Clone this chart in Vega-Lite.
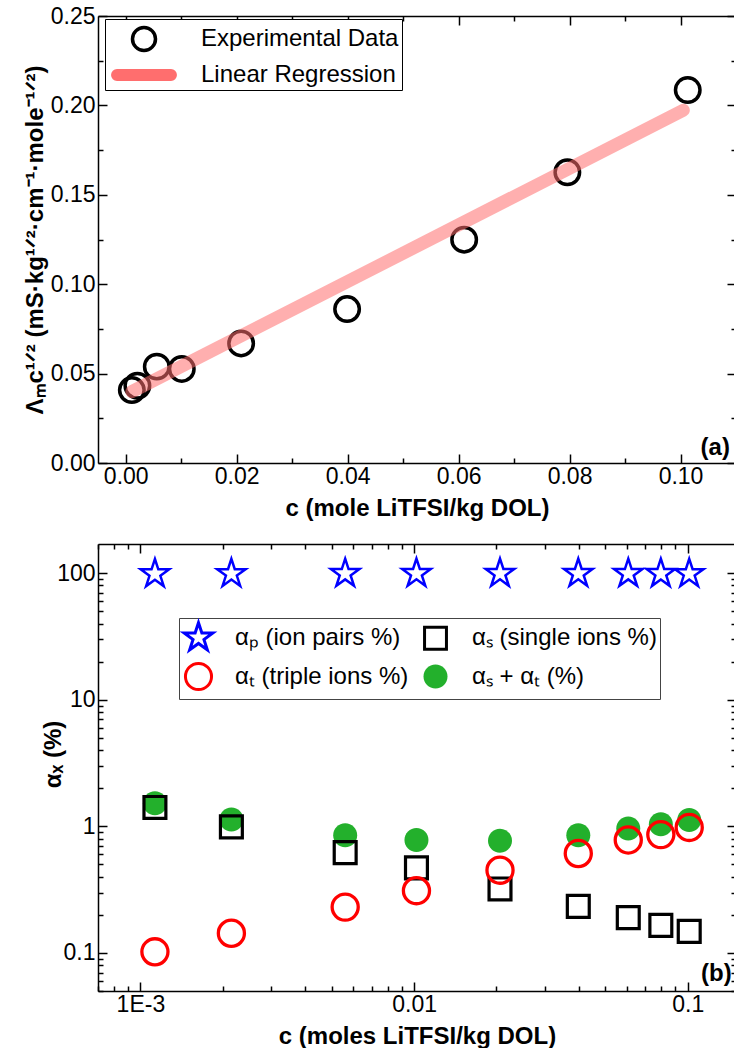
{
  "$schema": "https://vega.github.io/schema/vega-lite/v6.json",
  "padding": {"left": 23, "top": 5, "right": 0, "bottom": 0},
  "background": "white",
  "bounds": "flush",
  "spacing": 81,
  "resolve": {
    "scale": {"shape": "independent", "fill": "independent", "stroke": "independent"},
    "legend": {"shape": "independent", "fill": "independent", "stroke": "independent"}
  },
  "config": {
    "font": "Liberation Sans",
    "view": {"stroke": null},
    "axis": {
      "labelFont": "Liberation Sans", "labelFontSize": 23, "labelColor": "black",
      "titleFont": "Liberation Sans", "titleFontSize": 24, "titleFontWeight": "bold", "titleColor": "black",
      "domainColor": "black", "tickColor": "black", "domainWidth": 1.5, "tickWidth": 1.5,
      "grid": false, "labelFlush": false, "labelOverlap": false, "labelBound": false
    },
    "legend": {"labelFont": "Liberation Sans", "labelColor": "black", "labelLimit": 0, "titleLimit": 0}
  },
  "datasets": {
    "cond": [
      {"c": 0.0011, "v": 0.0408, "series": "Experimental Data"},
      {"c": 0.0021, "v": 0.0432, "series": "Experimental Data"},
      {"c": 0.0056, "v": 0.0539, "series": "Experimental Data"},
      {"c": 0.0101, "v": 0.0526, "series": "Experimental Data"},
      {"c": 0.0208, "v": 0.0669, "series": "Experimental Data"},
      {"c": 0.0399, "v": 0.0861, "series": "Experimental Data"},
      {"c": 0.061, "v": 0.1249, "series": "Experimental Data"},
      {"c": 0.0796, "v": 0.1626, "series": "Experimental Data"},
      {"c": 0.1013, "v": 0.2086, "series": "Experimental Data"}
    ],
    "fit": [
      {"c": 0.0011, "v": 0.0399, "series": "Linear Regression"},
      {"c": 0.1005, "v": 0.1973, "series": "Linear Regression"}
    ],
    "alpha": [
      {"c": 0.00113, "v": 98.5, "series": "αₚ (ion pairs %)"},
      {"c": 0.00215, "v": 98.9, "series": "αₚ (ion pairs %)"},
      {"c": 0.0056, "v": 99.1, "series": "αₚ (ion pairs %)"},
      {"c": 0.0102, "v": 99.2, "series": "αₚ (ion pairs %)"},
      {"c": 0.0206, "v": 99.2, "series": "αₚ (ion pairs %)"},
      {"c": 0.0398, "v": 99.2, "series": "αₚ (ion pairs %)"},
      {"c": 0.0606, "v": 99.1, "series": "αₚ (ion pairs %)"},
      {"c": 0.0797, "v": 99.0, "series": "αₚ (ion pairs %)"},
      {"c": 0.1012, "v": 98.9, "series": "αₚ (ion pairs %)"},
      {"c": 0.00113, "v": 1.41, "series": "αₛ (single ions %)"},
      {"c": 0.00215, "v": 0.99, "series": "αₛ (single ions %)"},
      {"c": 0.0056, "v": 0.62, "series": "αₛ (single ions %)"},
      {"c": 0.0102, "v": 0.47, "series": "αₛ (single ions %)"},
      {"c": 0.0206, "v": 0.32, "series": "αₛ (single ions %)"},
      {"c": 0.0398, "v": 0.233, "series": "αₛ (single ions %)"},
      {"c": 0.0606, "v": 0.19, "series": "αₛ (single ions %)"},
      {"c": 0.0797, "v": 0.165, "series": "αₛ (single ions %)"},
      {"c": 0.1012, "v": 0.148, "series": "αₛ (single ions %)"},
      {"c": 0.00113, "v": 0.102, "series": "αₜ (triple ions %)"},
      {"c": 0.00215, "v": 0.143, "series": "αₜ (triple ions %)"},
      {"c": 0.0056, "v": 0.23, "series": "αₜ (triple ions %)"},
      {"c": 0.0102, "v": 0.31, "series": "αₜ (triple ions %)"},
      {"c": 0.0206, "v": 0.45, "series": "αₜ (triple ions %)"},
      {"c": 0.0398, "v": 0.61, "series": "αₜ (triple ions %)"},
      {"c": 0.0606, "v": 0.78, "series": "αₜ (triple ions %)"},
      {"c": 0.0797, "v": 0.86, "series": "αₜ (triple ions %)"},
      {"c": 0.1012, "v": 0.98, "series": "αₜ (triple ions %)"},
      {"c": 0.00113, "v": 1.52, "series": "αₛ + αₜ (%)"},
      {"c": 0.00215, "v": 1.13, "series": "αₛ + αₜ (%)"},
      {"c": 0.0056, "v": 0.85, "series": "αₛ + αₜ (%)"},
      {"c": 0.0102, "v": 0.78, "series": "αₛ + αₜ (%)"},
      {"c": 0.0206, "v": 0.77, "series": "αₛ + αₜ (%)"},
      {"c": 0.0398, "v": 0.85, "series": "αₛ + αₜ (%)"},
      {"c": 0.0606, "v": 0.96, "series": "αₛ + αₜ (%)"},
      {"c": 0.0797, "v": 1.04, "series": "αₛ + αₜ (%)"},
      {"c": 0.1012, "v": 1.12, "series": "αₛ + αₜ (%)"}
    ],
    "labA": [{"label": "(a)"}]
  },
  "vconcat": [
    {
      "width": 638,
      "height": 447,
      "layer": [
        {
          "layer": [
            {
              "data": {"name": "cond"},
              "mark": {"type": "point", "filled": false, "strokeWidth": 3.5, "size": 1020, "opacity": 1},
              "encoding": {
                "x": {
                  "field": "c", "type": "quantitative",
                  "scale": {"domain": [-0.005, 0.11], "nice": false, "zero": false},
                  "axis": {
                    "values": [0, 0.01, 0.02, 0.03, 0.04, 0.05, 0.06, 0.07, 0.08, 0.09, 0.1],
                    "labelExpr": "round(datum.value*100) % 2 == 0 ? format(datum.value, '.2f') : ''",
                    "tickSize": {"condition": {"test": "round(datum.value*100) % 2 == 0", "value": -9}, "value": -5},
                    "labelPadding": 11,
                    "title": "c (mole LiTFSI/kg DOL)",
                    "titlePadding": 4
                  }
                },
                "y": {
                  "field": "v", "type": "quantitative",
                  "scale": {"domain": [0, 0.25], "nice": false, "zero": false},
                  "axis": {
                    "values": [0, 0.025, 0.05, 0.075, 0.1, 0.125, 0.15, 0.175, 0.2, 0.225, 0.25],
                    "labelExpr": "round(datum.value*1000) % 50 == 0 ? format(datum.value, '.2f') : ''",
                    "tickSize": {"condition": {"test": "round(datum.value*1000) % 50 == 0", "value": -9}, "value": -5},
                    "labelPadding": 12,
                    "title": "Λₘc¹ᐟ² (mS·kg¹ᐟ²·cm⁻¹·mole⁻¹ᐟ²)",
                    "titlePadding": 3
                  }
                },
                "shape": {
                  "field": "series", "type": "nominal",
                  "scale": {
                    "domain": ["Experimental Data", "Linear Regression"],
                    "range": ["M-0.767,0A0.767,0.767 0 1,0 0.767,0A0.767,0.767 0 1,0 -0.767,0Z", "M-1.8,-0.28L1.8,-0.28A0.28,0.28 0 0,1 1.8,0.28L-1.8,0.28A0.28,0.28 0 0,1 -1.8,-0.28Z"]
                  },
                  "legend": {
                    "title": null,
                    "orient": "none", "legendX": 7, "legendY": 3,
                    "strokeColor": "black", "fillColor": "white", "padding": 3,
                    "labelFontSize": 24, "labelOffset": 40, "rowPadding": 0,
                    "symbolOffset": 19, "symbolSize": 900, "symbolStrokeWidth": 3.5, "symbolOpacity": 1
                  }
                },
                "stroke": {
                  "field": "series", "type": "nominal",
                  "scale": {"domain": ["Experimental Data", "Linear Regression"], "range": ["black", "#ff6e6e"]},
                  "legend": {"title": null}
                },
                "fill": {
                  "field": "series", "type": "nominal",
                  "scale": {"domain": ["Experimental Data", "Linear Regression"], "range": ["transparent", "#ff6e6e"]},
                  "legend": {"title": null}
                }
              }
            },
            {
              "data": {"name": "fit"},
              "mark": {"type": "line", "color": "#ff6e6e", "strokeWidth": 13, "strokeCap": "round", "opacity": 0.55},
              "encoding": {
                "x": {"field": "c", "type": "quantitative"},
                "y": {"field": "v", "type": "quantitative"}
              }
            },
            {
              "data": {"name": "labA"},
              "mark": {"type": "text", "align": "right", "baseline": "alphabetic", "font": "Liberation Sans", "fontSize": 24, "fontWeight": "bold", "color": "black"},
              "encoding": {
                "x": {"datum": 0.1089},
                "y": {"datum": 0.0045},
                "text": {"field": "label"}
              }
            }
          ]
        },
        {
          "data": {"name": "cond"},
          "mark": {"type": "point", "opacity": 0},
          "encoding": {
            "x": {
              "field": "c", "type": "quantitative",
              "scale": {"domain": [-0.005, 0.11], "nice": false, "zero": false},
              "axis": {
                "orient": "top", "labels": false, "title": null,
                "values": [0, 0.01, 0.02, 0.03, 0.04, 0.05, 0.06, 0.07, 0.08, 0.09, 0.1],
                "tickSize": {"condition": {"test": "round(datum.value*100) % 2 == 0", "value": -9}, "value": -5}
              }
            },
            "y": {
              "field": "v", "type": "quantitative",
              "scale": {"domain": [0, 0.25], "nice": false, "zero": false},
              "axis": {
                "orient": "right", "labels": false, "title": null,
                "values": [0, 0.025, 0.05, 0.075, 0.1, 0.125, 0.15, 0.175, 0.2, 0.225, 0.25],
                "tickSize": {"condition": {"test": "round(datum.value*1000) % 50 == 0", "value": -9}, "value": -5}
              }
            }
          }
        }
      ],
      "resolve": {"scale": {"x": "independent", "y": "independent"}}
    },
    {
      "width": 638,
      "height": 447,
      "title": {"text": "(b)", "orient": "bottom", "anchor": "end", "offset": -86, "dx": -5, "font": "Liberation Sans", "fontSize": 24, "fontWeight": "bold", "color": "black"},
      "layer": [
        {
          "data": {"name": "alpha"},
          "encoding": {
            "x": {
              "field": "c", "type": "quantitative",
              "scale": {"type": "log", "domain": [0.0007, 0.15], "nice": false},
              "axis": {
                "values": [0.0007, 0.0008, 0.0009, 0.001, 0.002, 0.003, 0.004, 0.005, 0.006, 0.007, 0.008, 0.009, 0.01, 0.02, 0.03, 0.04, 0.05, 0.06, 0.07, 0.08, 0.09, 0.1],
                "labelExpr": "abs(log(datum.value)/LN10 - round(log(datum.value)/LN10)) < 0.001 ? (datum.value < 0.005 ? '1E-3' : format(datum.value, '~g')) : ''",
                "tickSize": {"condition": {"test": "abs(log(datum.value)/LN10 - round(log(datum.value)/LN10)) < 0.001", "value": -9}, "value": -5},
                "labelPadding": 11,
                "title": "c (moles LiTFSI/kg DOL)",
                "titlePadding": 4
              }
            },
            "y": {
              "field": "v", "type": "quantitative",
              "scale": {"type": "log", "domain": [0.05, 170], "nice": false},
              "axis": {
                "values": [0.05, 0.06, 0.07, 0.08, 0.09, 0.1, 0.2, 0.3, 0.4, 0.5, 0.6, 0.7, 0.8, 0.9, 1, 2, 3, 4, 5, 6, 7, 8, 9, 10, 20, 30, 40, 50, 60, 70, 80, 90, 100],
                "labelExpr": "abs(log(datum.value)/LN10 - round(log(datum.value)/LN10)) < 0.001 ? format(datum.value, '~g') : ''",
                "tickSize": {"condition": {"test": "abs(log(datum.value)/LN10 - round(log(datum.value)/LN10)) < 0.001", "value": -9}, "value": -5},
                "labelPadding": 12,
                "title": "αₓ (%)",
                "titleX": -33,
                "titleY": 210
              }
            },
            "shape": {
              "field": "series", "type": "nominal",
              "scale": {
                "domain": ["αₚ (ion pairs %)", "αₜ (triple ions %)", "αₛ (single ions %)", "αₛ + αₜ (%)"],
                "range": [
                  "M0,-1L0.225,-0.309L0.951,-0.309L0.363,0.118L0.588,0.809L0,0.382L-0.588,0.809L-0.363,0.118L-0.951,-0.309L-0.225,-0.309Z",
                  "M-0.87,0A0.87,0.87 0 1,0 0.87,0A0.87,0.87 0 1,0 -0.87,0Z",
                  "M-0.73,-0.73L0.73,-0.73L0.73,0.73L-0.73,0.73Z",
                  "M-0.8,0A0.8,0.8 0 1,0 0.8,0A0.8,0.8 0 1,0 -0.8,0Z"
                ]
              },
              "legend": {
                "title": null,
                "orient": "none", "legendX": 81, "legendY": 74,
                "columns": 2, "columnPadding": 8, "rowPadding": 1,
                "strokeColor": "#444", "fillColor": "white", "padding": 3,
                "labelFontSize": 24, "labelOffset": 20, "symbolSize": 900, "symbolStrokeWidth": 3, "symbolOpacity": 1
              }
            },
            "stroke": {
              "field": "series", "type": "nominal",
              "scale": {
                "domain": ["αₚ (ion pairs %)", "αₜ (triple ions %)", "αₛ (single ions %)", "αₛ + αₜ (%)"],
                "range": ["#0000ff", "#ff0000", "black", "transparent"]
              },
              "legend": {"title": null}
            },
            "fill": {
              "field": "series", "type": "nominal",
              "scale": {
                "domain": ["αₚ (ion pairs %)", "αₜ (triple ions %)", "αₛ (single ions %)", "αₛ + αₜ (%)"],
                "range": ["transparent", "transparent", "transparent", "#23b02c"]
              },
              "legend": {"title": null}
            }
          },
          "layer": [
            {
              "transform": [{"filter": "datum.series === 'αₛ + αₜ (%)'"}],
              "mark": {"type": "point", "size": 900, "opacity": 1, "strokeWidth": 0}
            },
            {
              "transform": [{"filter": "datum.series === 'αₛ (single ions %)'"}],
              "mark": {"type": "point", "size": 900, "opacity": 1, "strokeWidth": 3.2}
            },
            {
              "transform": [{"filter": "datum.series === 'αₜ (triple ions %)'"}],
              "mark": {"type": "point", "size": 900, "opacity": 1, "strokeWidth": 3.3}
            },
            {
              "transform": [{"filter": "datum.series === 'αₚ (ion pairs %)'"}],
              "mark": {"type": "point", "size": 900, "opacity": 1, "strokeWidth": 2.5}
            }
          ]
        },
        {
          "data": {"name": "alpha"},
          "mark": {"type": "point", "opacity": 0},
          "encoding": {
            "x": {
              "field": "c", "type": "quantitative",
              "scale": {"type": "log", "domain": [0.0007, 0.15], "nice": false},
              "axis": {
                "orient": "top", "labels": false, "title": null,
                "values": [0.0007, 0.0008, 0.0009, 0.001, 0.002, 0.003, 0.004, 0.005, 0.006, 0.007, 0.008, 0.009, 0.01, 0.02, 0.03, 0.04, 0.05, 0.06, 0.07, 0.08, 0.09, 0.1],
                "tickSize": {"condition": {"test": "abs(log(datum.value)/LN10 - round(log(datum.value)/LN10)) < 0.001", "value": -9}, "value": -5}
              }
            },
            "y": {
              "field": "v", "type": "quantitative",
              "scale": {"type": "log", "domain": [0.05, 170], "nice": false},
              "axis": {
                "orient": "right", "labels": false, "title": null,
                "values": [0.05, 0.06, 0.07, 0.08, 0.09, 0.1, 0.2, 0.3, 0.4, 0.5, 0.6, 0.7, 0.8, 0.9, 1, 2, 3, 4, 5, 6, 7, 8, 9, 10, 20, 30, 40, 50, 60, 70, 80, 90, 100],
                "tickSize": {"condition": {"test": "abs(log(datum.value)/LN10 - round(log(datum.value)/LN10)) < 0.001", "value": -9}, "value": -5}
              }
            }
          }
        }
      ],
      "resolve": {"scale": {"x": "independent", "y": "independent"}}
    }
  ]
}
